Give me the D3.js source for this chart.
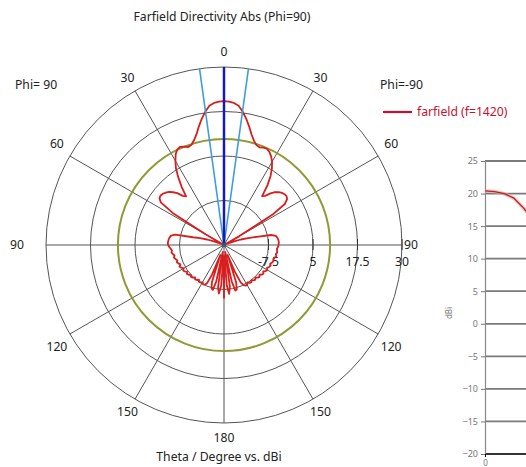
<!DOCTYPE html>
<html>
<head>
<meta charset="utf-8">
<script src="https://cdn.jsdelivr.net/npm/d3@7"></script>
<style>
  html, body { margin: 0; padding: 0; background: #fff; }
  svg { display: block; }
  text { font-family: "Noto Sans", "Liberation Sans", Arial, sans-serif; }
</style>
</head>
<body>
<svg id="chart" width="526" height="467"></svg>
<script>
// ---------------- DATA ----------------
const thetaDeg = [0,2,4,6,8,10,12,14,16,18,20,22,24,26,28,30,32,34,36,38,40,42,44,46,48,50,52,54,56,58,
  60,62,64,66,68,70,72,74,76,78,80,82,84,86,88,90,92,94,96,98,100,102,104,106,108,110,112,114,116,118,
  120,122,124,126,128,130,132,134,136,138,140,142,144,146,148,150,152,154,156,158,160,162,164,166,168,170,172,174,176,178,180];

// Phi = 90 half (drawn on the left)
const dbPhiPlus90 = [20.4,20.3,20.0,19.3,17.8,16.0,14.0,12.0,10.6,9.6,
  9.3,9.8,10.2,9.9,8.9,7.3,5.5,3.0,0.3,-2.7,
  -2.0,-0.4,0.6,1.5,2.0,2.4,2.6,2.4,1.4,-3,
  -14,-20,-20,-20,-19,-17,-15,-13,-11,-6,
  -4.9,-4.6,-4.4,-4.3,-4.2,-4.3,-4.6,-5.0,-5.3,-5.1,
  -5.4,-5.8,-5.5,-5.8,-6.2,-5.9,-6.2,-6.6,-6.1,-6.4,
  -6.9,-6.5,-6.7,-7.2,-6.8,-7.0,-7.5,-7.1,-7.3,-7.8,
  -7.4,-7.6,-8.0,-7.5,-7.6,-7.9,-7.5,-7.6,-8.2,-11,
  -17,-9,-7.3,-7.0,-9.5,-18,-8,-6.3,-8.5,-17,
  -5.0];

// Phi = -90 half (drawn on the right)
const dbPhiMinus90 = [20.4,20.3,20.0,19.3,17.8,16.0,14.0,12.0,10.5,9.5,
  9.2,9.5,9.6,9.1,8.2,7.0,5.4,3.4,0.8,-2.6,
  -2.0,-0.5,0.6,1.4,1.9,2.2,2.3,1.9,0.6,-4,
  -15,-20,-20,-20,-19,-17,-15,-13,-10.5,-6.5,
  -5.2,-4.9,-4.7,-4.6,-4.6,-4.7,-4.8,-5.1,-5.0,-4.9,
  -5.2,-5.0,-5.3,-5.6,-5.4,-5.6,-6.0,-5.7,-5.9,-6.3,
  -6.0,-6.2,-6.7,-6.3,-6.5,-7.0,-6.6,-6.8,-7.3,-6.9,
  -7.0,-7.5,-7.0,-7.2,-7.6,-7.0,-7.1,-7.5,-8.5,-12,
  -17,-9,-7.0,-6.8,-9.5,-18,-8.2,-6.2,-8.5,-17,
  -5.0];

const ringValues = [-7.5, 5, 17.5, 30];
const ringLabels = ["-7.5", "5", "17.5", "30"];
const angleTicks = [0, 30, 60, 90, 120, 150, 180];
const spokeAngles = [0, 30, 60, 90, 120, 150, 180, 210, 240, 270, 300, 330];
const mainLobeDirection = 0;
const beamHalfWidth = 7.9;
const sideLobeLevel = 9.8;

const insetTicks = [25, 20, 15, 10, 5, 0, -5, -10, -15, -20];
const insetXTicks = [0];

// ---------------- LAYOUT ----------------
const svg = d3.select("#chart");
svg.append("rect").attr("width", 526).attr("height", 467).attr("fill", "#fff");

const cx = 224, cy = 245, R = 178;
const r = d3.scaleLinear().domain([-20, 30]).range([0, R]).clamp(true);
const rad = d => d * Math.PI / 180;
const FS = 12.2;

// Title
svg.append("text").attr("x", 222).attr("y", 21).attr("text-anchor", "middle")
  .attr("font-size", FS).attr("fill", "#222").text("Farfield Directivity Abs (Phi=90)");

const g = svg.append("g").attr("transform", `translate(${cx},${cy})`);

// Grid circles
g.selectAll("circle.ring").data(ringValues).join("circle")
  .attr("class", "ring").attr("r", d => r(d))
  .attr("fill", "none").attr("stroke", "#555").attr("stroke-width", 1);

// Spokes
g.selectAll("line.spoke").data(spokeAngles).join("line")
  .attr("x1", 0).attr("y1", 0)
  .attr("x2", d => R * Math.sin(rad(d))).attr("y2", d => -R * Math.cos(rad(d)))
  .attr("stroke", "#555").attr("stroke-width", 1);

// Radial ticks on horizontal axis
g.selectAll("line.rtick").data(ringValues).join("line")
  .attr("x1", d => r(d)).attr("x2", d => r(d)).attr("y1", -6).attr("y2", 5)
  .attr("stroke", "#333").attr("stroke-width", 1);

// Radial labels
g.selectAll("text.rlab").data(ringValues).join("text")
  .attr("x", d => r(d)).attr("y", 21).attr("text-anchor", "middle")
  .attr("font-size", FS).attr("fill", "#222")
  .text((d, i) => ringLabels[i]);

// Side-lobe level circle
g.append("circle").attr("r", r(sideLobeLevel)).attr("fill", "none")
  .attr("stroke", "#8f9a36").attr("stroke-width", 2);

// Angle labels
const labR = 193;
const sides = [];
angleTicks.forEach(a => {
  sides.push({a: a, s: 1});
  if (a !== 0 && a !== 180) sides.push({a: a, s: -1});
});
function labX(d) {
  let rr = labR;
  if (d.a === 90) rr = d.s < 0 ? 207 : 187;
  return d.s * rr * Math.sin(rad(d.a));
}
function labY(d) {
  let y = -labR * Math.cos(rad(d.a));
  if (d.a === 60) y -= 5;
  if (d.a === 120) y += 5;
  return y + 4;
}
g.selectAll("text.alab").data(sides).join("text")
  .attr("x", labX).attr("y", labY)
  .attr("text-anchor", "middle").attr("font-size", FS).attr("fill", "#222")
  .text(d => d.a);

// Pattern curve
const pts = [];
for (let i = thetaDeg.length - 1; i >= 0; i--) pts.push([-rad(thetaDeg[i]), r(dbPhiPlus90[i])]);
for (let i = 1; i < thetaDeg.length; i++) pts.push([rad(thetaDeg[i]), r(dbPhiMinus90[i])]);
const radial = d3.lineRadial().angle(d => d[0]).radius(d => d[1]).curve(d3.curveLinear);
g.append("path").attr("d", radial(pts)).attr("fill", "none")
  .attr("stroke", "#d81e1e").attr("stroke-width", 1.8).attr("stroke-linejoin", "round");

// Beam width lines
[mainLobeDirection - beamHalfWidth, mainLobeDirection + beamHalfWidth].forEach(a => {
  g.append("line").attr("x1", 0).attr("y1", 0)
    .attr("x2", R * Math.sin(rad(a))).attr("y2", -R * Math.cos(rad(a)))
    .attr("stroke", "#3c9ee0").attr("stroke-width", 1.6);
});
// Main lobe direction
g.append("line").attr("x1", 0).attr("y1", 0)
  .attr("x2", R * Math.sin(rad(mainLobeDirection))).attr("y2", -R * Math.cos(rad(mainLobeDirection)))
  .attr("stroke", "#1a1ab0").attr("stroke-width", 2.5);
g.append("circle").attr("r", 2.2).attr("fill", "#335a70");

// Phi labels
svg.append("text").attr("x", 15).attr("y", 89).attr("font-size", FS).attr("fill", "#222").text("Phi= 90");
svg.append("text").attr("x", 380).attr("y", 89).attr("font-size", FS).attr("fill", "#222").text("Phi=-90");

// Legend
svg.append("line").attr("x1", 383).attr("x2", 412).attr("y1", 112).attr("y2", 112)
  .attr("stroke", "#c8102e").attr("stroke-width", 2.2);
svg.append("text").attr("x", 417).attr("y", 116).attr("font-size", FS).attr("fill", "#c8102e")
  .text("farfield (f=1420)");

// Axis caption
svg.append("text").attr("x", 219).attr("y", 461).attr("text-anchor", "middle")
  .attr("font-size", FS).attr("fill", "#222").text("Theta / Degree vs. dBi");

// ---------------- INSET (cartesian, cut off at right) ----------------
const ix = d3.scaleLinear().domain([0, 180]).range([485, 485 + 180 * 4.8]);
const iy = d3.scaleLinear().domain([-20, 25]).range([454, 161]);
const inset = svg.append("g");
inset.selectAll("line.grid").data(insetTicks).join("line")
  .attr("x1", ix(0)).attr("x2", 526).attr("y1", d => iy(d)).attr("y2", d => iy(d))
  .attr("stroke", d => d === -20 ? "#333" : "#7a7a7a").attr("stroke-width", d => d === -20 ? 2 : 1.8);
const yAxis = d3.axisLeft(iy).tickValues(insetTicks).tickSize(4).tickFormat(d3.format("d"));
const ya = inset.append("g").attr("transform", `translate(${ix(0)},0)`).call(yAxis);
ya.select(".domain").attr("stroke", "#888").attr("stroke-width", 1.2);
ya.selectAll(".tick line").attr("stroke", "#777");
ya.selectAll(".tick text").attr("font-family", "Liberation Serif, serif").attr("font-size", 9).attr("fill", "#777");
const xAxis = d3.axisBottom(ix).tickValues(insetXTicks).tickSize(3);
const xa = inset.append("g").attr("transform", `translate(0,${iy(-20)})`).call(xAxis);
xa.select(".domain").remove();
xa.selectAll(".tick text").attr("font-family", "Liberation Serif, serif").attr("font-size", 8).attr("fill", "#777");
inset.append("text").attr("transform", "translate(452,313) rotate(-90)")
  .attr("text-anchor", "middle").attr("font-family", "Liberation Serif, serif").attr("font-size", 8).attr("fill", "#777").text("dBi");

const insetLine = d3.line().x((d, i) => ix(thetaDeg[i])).y(d => iy(d));
inset.append("path").attr("d", insetLine(dbPhiMinus90)).attr("fill", "none")
  .attr("stroke", "#f2a0a0").attr("stroke-width", 3.5).attr("opacity", 0.7);
inset.append("path").attr("d", insetLine(dbPhiMinus90)).attr("fill", "none")
  .attr("stroke", "#b02828").attr("stroke-width", 1.3);
</script>
</body>
</html>
